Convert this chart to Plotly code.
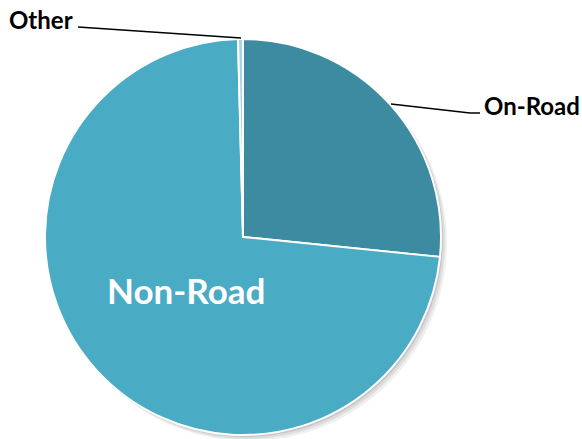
import plotly.graph_objects as go

categories = ["On-Road", "Non-Road", "Other"]
values = [26.6, 73.0, 0.4]
colors = ["#3d8ba1", "#4aabc5", "#a8d5e2"]

W, H = 582, 439
cx, cy, r = 243, 237, 198

fig = go.Figure()
fig.add_trace(go.Pie(
    labels=categories, values=values, sort=False, direction="clockwise", rotation=0,
    marker=dict(colors=colors, line=dict(color="white", width=2)),
    textinfo="none", hoverinfo="label+percent", showlegend=False,
    domain=dict(x=[(cx - r) / W, (cx + r) / W], y=[1 - (cy + r) / H, 1 - (cy - r) / H]),
))

def px(x):
    return x / W

def py(y):
    return 1 - y / H

# soft shadow
for off, col in [(6, "rgba(0,0,0,0.06)"), (4, "rgba(0,0,0,0.08)"), (2, "rgba(0,0,0,0.10)")]:
    fig.add_shape(type="circle", xref="paper", yref="paper", layer="below",
                  x0=px(cx - r + off), x1=px(cx + r + off), y0=py(cy + r + off), y1=py(cy - r + off),
                  line=dict(width=0), fillcolor=col)

# leader lines
fig.add_shape(type="path", xref="paper", yref="paper",
              path=f"M {px(78)} {py(27)} L {px(241)} {py(38)}",
              line=dict(color="black", width=1.5))
fig.add_shape(type="path", xref="paper", yref="paper",
              path=f"M {px(391)} {py(104)} L {px(470)} {py(113)} L {px(480)} {py(113)}",
              line=dict(color="black", width=1.5))

font_fam = "Lato, Open Sans, sans-serif"
common = dict(xref="paper", yref="paper", showarrow=False, xanchor="center", yanchor="middle")
fig.add_annotation(x=px(41), y=py(20), text="<b>Other</b>",
                   font=dict(family=font_fam, size=24, color="black"), **common)
fig.add_annotation(x=px(532), y=py(106), text="<b>On-Road</b>",
                   font=dict(family=font_fam, size=24, color="black"), **common)
fig.add_annotation(x=px(186), y=py(290), text="<b>Non-Road</b>",
                   font=dict(family=font_fam, size=35, color="white"), **common)

fig.update_layout(width=W, height=H, margin=dict(l=0, r=0, t=0, b=0),
                  paper_bgcolor="white", plot_bgcolor="white")
fig.write_html("out.html", config={"displayModeBar": False},
               post_script="document.body.style.margin='0';")
